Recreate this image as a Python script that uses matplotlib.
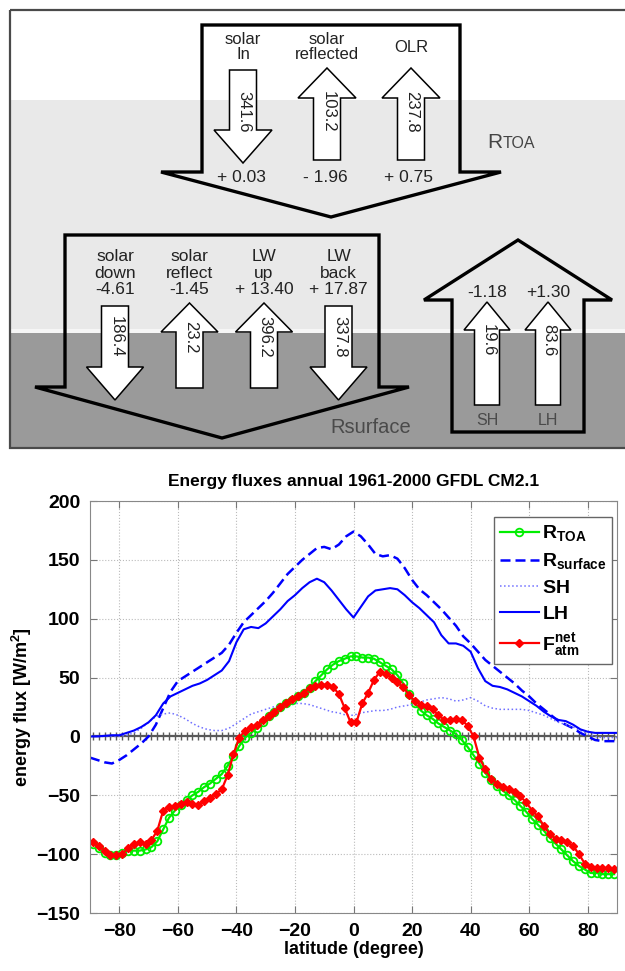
import matplotlib
matplotlib.use('Agg')
import matplotlib.pyplot as plt
from matplotlib.patches import Polygon, Rectangle
import numpy as np

plt.rcParams['font.family'] = ['Liberation Sans', 'DejaVu Sans']
plt.rcParams['mathtext.fontset'] = 'custom'
plt.rcParams['mathtext.rm'] = 'Liberation Sans'
plt.rcParams['mathtext.bf'] = 'Liberation Sans:bold'

# ---- diagram values ----
toa_labels = ['solar\nIn', 'solar\nreflected', 'OLR']
toa_values = ['341.6', '103.2', '237.8']
toa_changes = ['+ 0.03', '- 1.96', '+ 0.75']
toa_dirs = ['down', 'up', 'up']

sfc_labels = ['solar\ndown\n-4.61', 'solar\nreflect\n-1.45', 'LW\nup\n+ 13.40', 'LW\nback\n+ 17.87']
sfc_values = ['186.4', '23.2', '396.2', '337.8']
sfc_dirs = ['down', 'up', 'up', 'down']

turb_labels = ['SH', 'LH']
turb_values = ['19.6', '83.6']
turb_changes = ['-1.18', '+1.30']

# ---- zonal mean fluxes ----
lat_fine = np.arange(-89, 90, 2)
r_toa = [-91, -95, -99, -101, -101, -99, -97, -97, -97, -96,
         -94, -89, -79, -69, -63, -58, -54, -50, -47, -43,
         -40, -36, -32, -25, -17, -8, -1, 3, 7, 12,
         17, 21, 25, 28, 31, 34, 37, 41, 47, 52,
         57, 61, 64, 66, 68, 68, 67, 67, 66, 63,
         60, 57, 52, 45, 36, 28, 22, 18, 15, 11,
         8, 5, 2, -3, -9, -16, -23, -31, -37, -42,
         -46, -50, -54, -59, -64, -70, -75, -80, -86, -91,
         -96, -101, -106, -110, -113, -116, -116, -117, -117, -117]
f_atm = [-90, -93, -97, -101, -101, -100, -95, -91, -90, -91,
         -88, -80, -63, -60, -59, -57, -56, -57, -58, -55,
         -52, -49, -45, -33, -15, -1, 5, 8, 10, 14,
         17, 21, 25, 28, 32, 34, 37, 41, 43, 44,
         44, 42, 36, 24, 12, 12, 28, 37, 48, 55,
         53, 50, 46, 42, 35, 30, 27, 26, 23, 18,
         14, 14, 15, 14, 9, 0, -18, -28, -36, -40,
         -43, -45, -47, -51, -56, -63, -68, -76, -83, -87,
         -88, -90, -93, -100, -108, -111, -112, -112, -112, -113]

lat = np.arange(-90, 90.1, 2.5)
r_sfc = [-18, -20, -22, -23, -20, -16, -11, -6, 0, 10,
         24, 38, 47, 51, 55, 59, 63, 67, 71, 78,
         88, 97, 103, 109, 115, 122, 130, 138, 144, 150,
         155, 160, 161, 159, 163, 170, 174, 170, 163, 155,
         153, 154, 151, 143, 133, 125, 120, 114, 108, 101,
         94, 85, 79, 72, 65, 60, 55, 50, 45, 39,
         34, 28, 23, 18, 13, 10, 7, 3, 0, -3,
         -4, -4, -4]
sh = [0, 0, 0, 0, 0, 1, 3, 7, 12, 17,
      19, 20, 18, 15, 11, 8, 6, 5, 5, 7,
      11, 15, 19, 21, 23, 25, 26, 28, 28, 28,
      27, 25, 23, 21, 20, 18, 18, 20, 21, 22,
      22, 23, 25, 26, 27, 29, 31, 32, 33, 32,
      30, 31, 33, 30, 26, 24, 23, 23, 23, 23,
      22, 20, 18, 15, 12, 10, 8, 5, 2, 0,
      -1, -1, -1]
lh = [0, 0, 0.5, 1, 1, 3, 5, 8, 12, 18,
      28, 34, 37, 40, 43, 45, 48, 52, 56, 64,
      80, 91, 93, 92, 96, 102, 108, 115, 120, 126,
      131, 134, 131, 124, 116, 108, 101, 110, 119, 124,
      125, 126, 125, 120, 114, 109, 103, 97, 86, 79,
      79, 77, 72, 58, 47, 43, 42, 40, 37, 34,
      30, 26, 21, 17, 14, 13, 10, 6, 4, 3,
      3, 3, 3]

fig = plt.figure(figsize=(6.25, 9.71), dpi=100)

# ================= schematic (pixel coordinates) =================
dg = fig.add_axes([0, 1 - 450 / 971, 1, 450 / 971])
dg.set_xlim(0, 625)
dg.set_ylim(450, 0)
dg.axis('off')

dg.add_patch(Rectangle((10, 10), 620, 90, fc='white', ec='none'))
dg.add_patch(Rectangle((10, 100), 620, 229, fc='#e9e9e9', ec='none'))
dg.add_patch(Rectangle((10, 329), 620, 4, fc='#f6f6f6', ec='none'))
dg.add_patch(Rectangle((10, 333), 620, 115, fc='#9a9a9a', ec='none'))
dg.add_patch(Rectangle((10, 10), 620, 438, fc='none', ec='#4a4a4a', lw=1.6))


def big_arrow(cx, y0, y1, y2, body, flare):
    # y0: tail, y1: head base, y2: tip
    pts = [(cx - body, y0), (cx + body, y0), (cx + body, y1), (cx + flare, y1),
           (cx, y2), (cx - flare, y1), (cx - body, y1)]
    dg.add_patch(Polygon(pts, closed=True, fc='none', ec='black', lw=2.4, joinstyle='miter'))


def small_arrow(cx, y0, y1, y2, shaft=13.5, head=29):
    pts = [(cx - shaft, y0), (cx + shaft, y0), (cx + shaft, y1), (cx + head, y1),
           (cx, y2), (cx - head, y1), (cx - shaft, y1)]
    dg.add_patch(Polygon(pts, closed=True, fc='white', ec='black', lw=1.1, joinstyle='miter'))


big_arrow(331, 25, 172, 217, 129, 170)
big_arrow(222, 235, 387, 438, 157, 187)
big_arrow(518, 432, 300, 240, 66, 94)

txt = '#222222'
# TOA terms
for i in range(len(toa_labels)):
    cx = 243 + i * 84
    if toa_dirs[i] == 'down':
        small_arrow(cx, 70, 130, 163)
    else:
        small_arrow(cx, 160, 98, 68)
    dg.text(cx, 47, toa_labels[i], ha='center', va='center', fontsize=12,
            linespacing=0.95, color=txt)
    dg.text(cx + 1, 112, toa_values[i], ha='center', va='center', fontsize=12,
            rotation=-90, color=txt)
    dg.text(cx - 2, 178, toa_changes[i], ha='center', va='center', fontsize=12.5,
            color=txt)
dg.text(487, 142, 'R', ha='left', va='center', fontsize=15, color='#444444')
dg.text(503, 144, 'TOA', ha='left', va='center', fontsize=11.5, color='#444444')

# surface terms
for i in range(len(sfc_labels)):
    cx = 115 + i * 74.5
    if sfc_dirs[i] == 'down':
        small_arrow(cx, 306, 367, 400, head=28.5)
    else:
        small_arrow(cx, 388, 332, 303, head=28.5)
    dg.text(cx, 273, sfc_labels[i], ha='center', va='center', fontsize=12.5,
            linespacing=1.12, color=txt)
    dg.text(cx + 1, 337, sfc_values[i], ha='center', va='center', fontsize=12,
            rotation=-90, color=txt)
dg.text(371, 427, 'Rsurface', ha='center', va='center', fontsize=14.5, color='#4a4a4a')

# turbulent fluxes
for i in range(len(turb_labels)):
    cx = 487 + i * 61
    small_arrow(cx, 405, 330, 302, shaft=12.5, head=23)
    dg.text(cx, 292, turb_changes[i], ha='center', va='center', fontsize=12.5,
            color=txt)
    dg.text(cx + 1, 340, turb_values[i], ha='center', va='center', fontsize=12,
            rotation=-90, color=txt)
    dg.text(cx, 420, turb_labels[i], ha='center', va='center', fontsize=11.5,
            color='#4a4a4a')

# ================= zonal mean chart =================
ax = fig.add_axes([90 / 625, 58 / 971, 527 / 625, 412 / 971])
ax.plot(lat_fine, np.zeros(len(lat_fine)), color='0.35', lw=1.6, marker='|', ms=6, mew=1)
l1, = ax.plot(lat_fine, r_toa, color='#00ee00', lw=1.6, marker='o', ms=5.5,
              mfc='none', mew=1.3, label=r'$\mathbf{R_{TOA}}$')
l2, = ax.plot(lat, r_sfc, color='#0000ff', lw=1.8, ls=(0, (4, 2)),
              label=r'$\mathbf{R_{surface}}$')
l3, = ax.plot(lat, sh, color='#6f6fff', lw=1.1, ls=':', label=r'$\mathbf{SH}$')
l4, = ax.plot(lat, lh, color='#0000ff', lw=1.5, label=r'$\mathbf{LH}$')
l5, = ax.plot(lat_fine, f_atm, color='#ff0000', lw=1.6, marker='D', ms=3.8,
              label=r'$\mathbf{F^{net}_{atm}}$')

ax.set_xlim(-90, 90)
ax.set_ylim(-150, 200)
ax.set_xticks(np.arange(-80, 81, 20))
ax.set_yticks(np.arange(-150, 201, 50))
ax.grid(True, ls=':', color='#bbbbbb', lw=0.8)
ax.tick_params(direction='in', top=True, right=True, length=5, color='#777777',
               labelsize=14, pad=7)
for lbl in ax.get_xticklabels() + ax.get_yticklabels():
    lbl.set_fontweight('bold')
for sp in ax.spines.values():
    sp.set_color('#888888')

ax.set_title('Energy fluxes annual 1961-2000 GFDL CM2.1', fontsize=12.5,
             fontweight='bold', pad=11)
ax.set_xlabel('latitude (degree)', fontsize=13, fontweight='bold', labelpad=1)
ax.set_ylabel(r'energy flux [W/m$^\mathbf{2}$]', fontsize=13, fontweight='bold', labelpad=2)

leg = ax.legend(handles=[l1, l2, l3, l4, l5], loc='upper right',
                bbox_to_anchor=(0.99, 0.96), borderaxespad=0, fontsize=14,
                fancybox=False, edgecolor='#666666', framealpha=1, handlelength=2.0,
                handletextpad=0.15, labelspacing=0.42, borderpad=0.3)
leg.get_frame().set_linewidth(1.0)

plt.savefig('out.png', dpi=100)
